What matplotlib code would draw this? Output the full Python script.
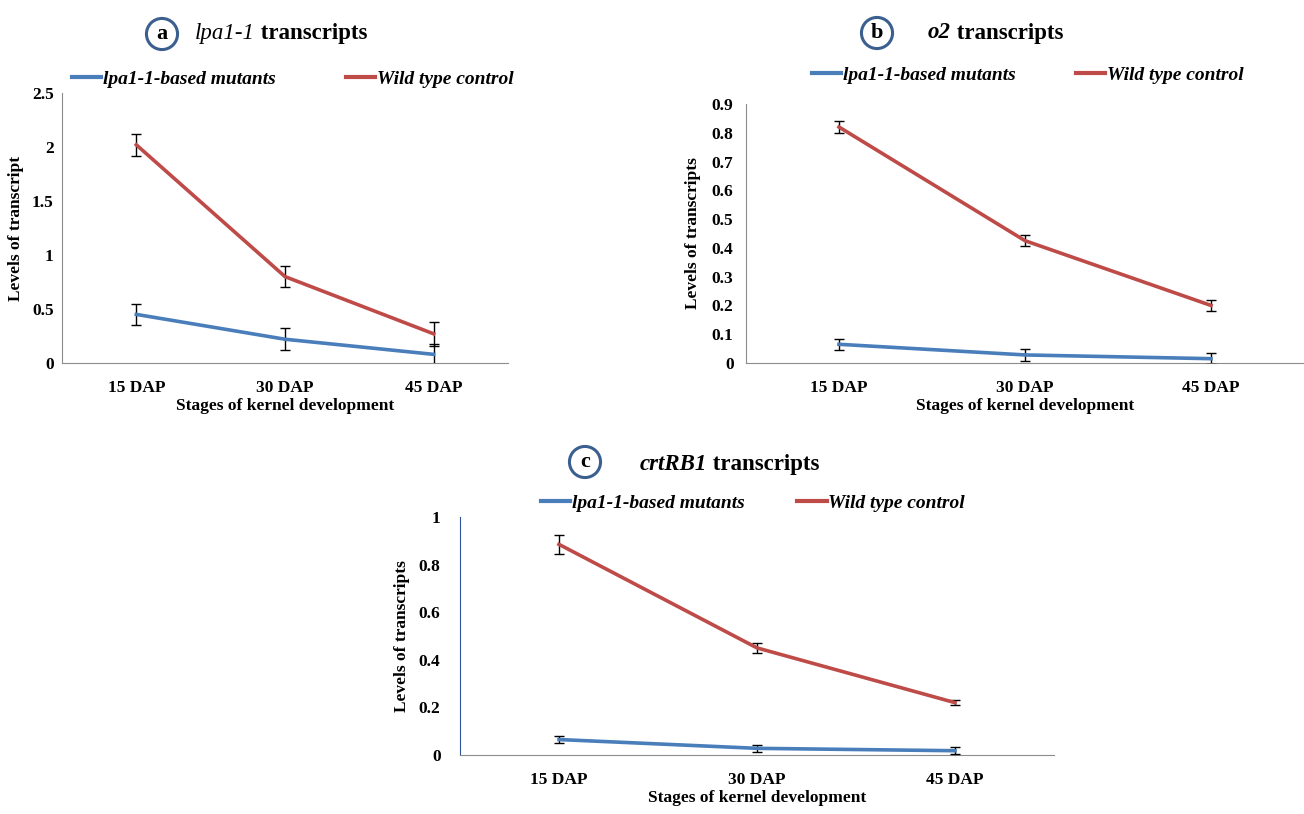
import matplotlib
matplotlib.use('Agg')
import matplotlib.pyplot as plt
from matplotlib.lines import Line2D
import numpy as np

plt.rcParams['font.family'] = ['Liberation Serif', 'DejaVu Serif']

stages = ['15 DAP', '30 DAP', '45 DAP']
series_names = ['lpa1-1-based mutants', 'Wild type control']

# panel a: lpa1-1 transcripts
a_mut = [0.45, 0.22, 0.08]
a_mut_err = [0.10, 0.10, 0.10]
a_wt = [2.02, 0.80, 0.27]
a_wt_err = [0.10, 0.10, 0.11]

# panel b: o2 transcripts
b_mut = [0.065, 0.028, 0.015]
b_mut_err = [0.02, 0.02, 0.02]
b_wt = [0.82, 0.425, 0.20]
b_wt_err = [0.02, 0.02, 0.02]

# panel c: crtRB1 transcripts
c_mut = [0.065, 0.028, 0.018]
c_mut_err = [0.015, 0.015, 0.015]
c_wt = [0.885, 0.45, 0.22]
c_wt_err = [0.04, 0.02, 0.01]

blue = '#4a7ebb'
red = '#be4b48'
axis_grey = '#8c8c8c'
circle_col = '#3b5f8e'

fig = plt.figure(figsize=(13.04, 8.14), dpi=100)


def panel(rect, mut, mut_err, wt, wt_err, ylim, yticks, ylabel, letter, gene,
          title_xy, circle_xy, legend_xy, left_spine=axis_grey, colsp=3.0,
          ypad=8, ylabpad=4):
    ax = fig.add_axes(rect)
    x = np.arange(len(stages))
    ax.errorbar(x, mut, yerr=mut_err, color=blue, lw=2.6, ecolor='black',
                elinewidth=1, capsize=3.5, capthick=1, zorder=3)
    ax.errorbar(x, wt, yerr=wt_err, color=red, lw=2.6, ecolor='black',
                elinewidth=1, capsize=3.5, capthick=1, zorder=3)
    ax.set_xlim(-0.5, 2.5)
    ax.set_ylim(*ylim)
    ax.set_yticks(yticks)
    ax.set_yticklabels([f'{v:g}' for v in yticks])
    ax.set_xticks(x)
    ax.set_xticklabels(stages)
    ax.tick_params(length=0, labelsize=12.5)
    ax.tick_params(axis='x', pad=12)
    ax.tick_params(axis='y', pad=ypad)
    for lab in ax.get_xticklabels() + ax.get_yticklabels():
        lab.set_fontweight('bold')
    for s in ['top', 'right']:
        ax.spines[s].set_visible(False)
    ax.spines['bottom'].set_color(axis_grey)
    ax.spines['left'].set_color(left_spine)
    ax.set_ylabel(ylabel, fontsize=12.5, fontweight='bold', labelpad=ylabpad)
    ax.set_xlabel('Stages of kernel development', fontsize=12.5, fontweight='bold', labelpad=2)

    fig.text(circle_xy[0], circle_xy[1], letter, fontsize=16, fontweight='bold',
             ha='center', va='center',
             bbox=dict(boxstyle='circle,pad=0.25', fc='white', ec=circle_col, lw=2.2))
    t1 = fig.text(title_xy[0], title_xy[1], gene, fontsize=16.5, style='italic',
                  fontweight='bold' if letter != 'a' else 'normal', va='center')
    fig.add_artist(plt.Annotation(' transcripts', xy=(1, 0.5), xycoords=t1,
                                  va='center', ha='left', fontsize=16.5, fontweight='bold'))

    handles = [Line2D([], [], color=blue, lw=3), Line2D([], [], color=red, lw=3)]
    ax.legend(handles, series_names, loc='center left', bbox_to_anchor=legend_xy,
              bbox_transform=fig.transFigure,
              ncol=2, frameon=False, handlelength=1.5, handletextpad=0.1,
              columnspacing=colsp, borderpad=0, borderaxespad=0,
              prop=dict(family='Liberation Serif', size=14, style='italic', weight='bold'))
    return ax


panel([62 / 1304, 1 - 363 / 814, 446 / 1304, 270 / 814],
      a_mut, a_mut_err, a_wt, a_wt_err, (0, 2.5), [0, 0.5, 1, 1.5, 2, 2.5],
      'Levels of transcript', 'a', 'lpa1-1',
      (195 / 1304, 1 - 34 / 814), (162 / 1304, 1 - 34 / 814), (72 / 1304, 1 - 79 / 814),
      colsp=3.6, ypad=6, ylabpad=6)

panel([746 / 1304, 1 - 363 / 814, 558 / 1304, 259 / 814],
      b_mut, b_mut_err, b_wt, b_wt_err, (0, 0.9), list(np.round(np.arange(0, 0.91, 0.1), 1)),
      'Levels of transcripts', 'b', 'o2',
      (928 / 1304, 1 - 33 / 814), (877 / 1304, 1 - 33 / 814), (812 / 1304, 1 - 75 / 814),
      colsp=3.1, ypad=9, ylabpad=8)

panel([460 / 1304, 1 - 755 / 814, 594 / 1304, 238 / 814],
      c_mut, c_mut_err, c_wt, c_wt_err, (0, 1.0), [0, 0.2, 0.4, 0.6, 0.8, 1],
      'Levels of transcripts', 'c', 'crtRB1',
      (640 / 1304, 1 - 464 / 814), (585 / 1304, 1 - 462 / 814), (541 / 1304, 1 - 503 / 814),
      left_spine='#2f5597', colsp=2.7, ypad=14, ylabpad=6)

fig.savefig('out.png', dpi=100)
